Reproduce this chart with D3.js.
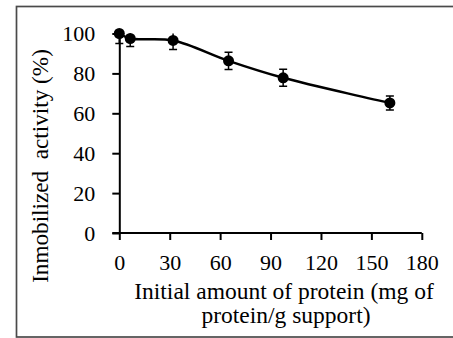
<!DOCTYPE html>
<html><head><meta charset="utf-8">
<script src="https://cdn.jsdelivr.net/npm/d3@7"></script>
<style>body{margin:0;background:#fff}svg{display:block}svg text{font-family:"Liberation Serif","Times New Roman","DejaVu Serif",serif !important;fill:#000}</style>
</head><body><svg id="c" width="453" height="338"></svg>
<script>
const protein = [0, 6.5, 32, 65, 97.5, 161];
const activity = [100, 97.5, 96.5, 86.3, 77.8, 65.2];
const errors = [5, 4, 4.5, 4.3, 4.3, 3.5];
const xTicks = [0, 30, 60, 90, 120, 150, 180];
const yTicks = [0, 20, 40, 60, 80, 100];
const xTitle = ["Initial amount of protein (mg of", "protein/g support)"];
const yTitle = "Inmobilized\u00a0 activity (%)";

const FONT = "Liberation Serif, Times New Roman, serif";
const svg = d3.select("#c");
svg.append("rect").attr("x",16.5).attr("y",6.5).attr("width",460).attr("height",330.5)
  .attr("fill","none").attr("stroke","#4a4a4a").attr("stroke-width",1.7);

const x = d3.scaleLinear().domain([0,180]).range([119.3,421.8]);
const y = d3.scaleLinear().domain([0,100]).range([233,33.5]);

svg.append("clipPath").attr("id","pc").append("rect")
  .attr("x",x(0)-10).attr("y",y(100)).attr("width",x(180)-x(0)+20).attr("height",y(0)-y(100));

const gx = svg.append("g").attr("transform",`translate(0,${y(0)})`)
  .call(d3.axisBottom(x).tickValues(xTicks).tickSize(7).tickPadding(14).tickSizeOuter(0));
const gy = svg.append("g").attr("transform",`translate(${x(0)},0)`)
  .call(d3.axisLeft(y).tickValues(yTicks).tickSize(7).tickPadding(17).tickSizeOuter(0));
[gx,gy].forEach(g=>{
  g.attr("font-family",FONT);
  g.select(".domain").attr("stroke","#000").attr("stroke-width",2);
  g.selectAll(".tick line").attr("stroke","#000").attr("stroke-width",2);
  g.selectAll(".tick text").attr("font-family",FONT).style("font-size","22px").attr("fill","#000");
});
gy.selectAll(".tick text").attr("dy","0.34em");
gx.selectAll(".tick text").attr("dy","0.74em");
gx.select(".domain").attr("d",`M${x(0)-7},0H${x(180)}`);

const data = protein.map((p,i)=>({p, a:activity[i], e:errors[i]}));

svg.append("path").datum(data)
  .attr("d", d3.line().x(d=>x(d.p)).y(d=>y(d.a)).curve(d3.curveCatmullRom.alpha(0.5)))
  .attr("fill","none").attr("stroke","#000").attr("stroke-width",2.5);

const eb = svg.append("g").attr("clip-path","url(#pc)").attr("stroke","#000").attr("stroke-width",1.5);
data.forEach(d=>{
  eb.append("line").attr("x1",x(d.p)).attr("x2",x(d.p)).attr("y1",y(d.a-d.e)).attr("y2",y(d.a+d.e));
  eb.append("line").attr("x1",x(d.p)-4).attr("x2",x(d.p)+4).attr("y1",y(d.a-d.e)).attr("y2",y(d.a-d.e));
  eb.append("line").attr("x1",x(d.p)-4).attr("x2",x(d.p)+4).attr("y1",y(d.a+d.e)).attr("y2",y(d.a+d.e));
});

svg.append("g").selectAll("circle").data(data).join("circle")
  .attr("cx",d=>x(d.p)).attr("cy",d=>y(d.a)).attr("r",5.5).attr("fill","#000");

svg.append("text").attr("x",284).attr("y",299).attr("text-anchor","middle").attr("font-family",FONT)
  .style("font-size","23.5px").text(xTitle[0]);
svg.append("text").attr("x",286).attr("y",323).attr("text-anchor","middle").attr("font-family",FONT)
  .style("font-size","23.5px").text(xTitle[1]);
svg.append("text").attr("transform","translate(48,166) rotate(-90)").attr("text-anchor","middle").attr("font-family",FONT)
  .style("font-size","23.2px").text(yTitle);
</script></body></html>
